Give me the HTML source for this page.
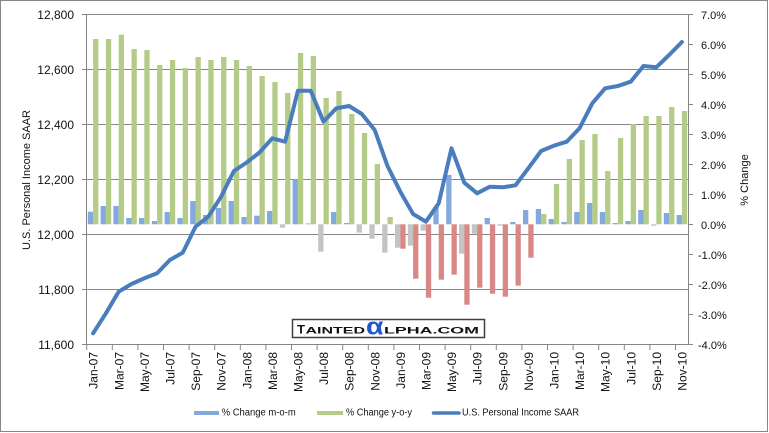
<!DOCTYPE html>
<html>
<head>
<meta charset="utf-8">
<style>
  html, body { margin: 0; padding: 0; background: #ffffff; }
  svg { display: block; }
  text { font-family: "Liberation Sans", sans-serif; fill: #111111; }
</style>
</head>
<body>
<svg width="769" height="433" viewBox="0 0 769 433" xmlns="http://www.w3.org/2000/svg">
  <rect x="0" y="0" width="769" height="433" fill="#ffffff"/>
  <rect x="0.5" y="0.5" width="767" height="431" fill="none" stroke="#868686" stroke-width="1"/>

  <!-- gridlines -->
  <g stroke="#868686" stroke-width="1">
    <line x1="86.5" y1="14.5" x2="688.5" y2="14.5"/>
    <line x1="86.5" y1="69.5" x2="688.5" y2="69.5"/>
    <line x1="86.5" y1="124.5" x2="688.5" y2="124.5"/>
    <line x1="86.5" y1="179.5" x2="688.5" y2="179.5"/>
    <line x1="86.5" y1="234.5" x2="688.5" y2="234.5"/>
    <line x1="86.5" y1="289.5" x2="688.5" y2="289.5"/>
  </g>

  <!-- m-o-m bars (blue positive, gray negative) -->
  <g fill="#84a9dc">
    <rect x="87.8" y="211.7" width="5.3" height="12.6"/>
    <rect x="100.6" y="206" width="5.3" height="18.3"/>
    <rect x="113.4" y="206" width="5.3" height="18.3"/>
    <rect x="126.2" y="218" width="5.3" height="6.3"/>
    <rect x="139.0" y="218" width="5.3" height="6.3"/>
    <rect x="151.8" y="221" width="5.3" height="3.3"/>
    <rect x="164.6" y="212" width="5.3" height="12.3"/>
    <rect x="177.4" y="218" width="5.3" height="6.3"/>
    <rect x="190.2" y="201" width="5.3" height="23.3"/>
    <rect x="203.0" y="215" width="5.3" height="9.3"/>
    <rect x="215.8" y="208" width="5.3" height="16.3"/>
    <rect x="228.6" y="201" width="5.3" height="23.3"/>
    <rect x="241.4" y="217" width="5.3" height="7.3"/>
    <rect x="254.2" y="215.7" width="5.3" height="8.6"/>
    <rect x="267.0" y="211" width="5.3" height="13.3"/>
    <rect x="292.6" y="179.3" width="5.3" height="45"/>
    <rect x="305.4" y="223.5" width="5.3" height="0.8"/>
    <rect x="331.0" y="212" width="5.3" height="12.3"/>
    <rect x="343.8" y="223" width="5.3" height="1.3"/>
    <rect x="433.4" y="207" width="5.3" height="17.3"/>
    <rect x="446.2" y="175" width="5.3" height="49.3"/>
    <rect x="484.6" y="218" width="5.3" height="6.3"/>
    <rect x="510.2" y="222" width="5.3" height="2.3"/>
    <rect x="523.0" y="210" width="5.3" height="14.3"/>
    <rect x="535.8" y="209" width="5.3" height="15.3"/>
    <rect x="548.6" y="219" width="5.3" height="5.3"/>
    <rect x="561.4" y="222" width="5.3" height="2.3"/>
    <rect x="574.2" y="212" width="5.3" height="12.3"/>
    <rect x="587.0" y="203" width="5.3" height="21.3"/>
    <rect x="599.8" y="212" width="5.3" height="12.3"/>
    <rect x="612.6" y="223" width="5.3" height="1.3"/>
    <rect x="625.4" y="221" width="5.3" height="3.3"/>
    <rect x="638.2" y="210" width="5.3" height="14.3"/>
    <rect x="663.8" y="213" width="5.3" height="11.3"/>
    <rect x="676.6" y="215" width="5.3" height="9.3"/>
  </g>
  <g fill="#c4c4c4">
    <rect x="279.8" y="224.3" width="5.3" height="3.4"/>
    <rect x="318.2" y="224.3" width="5.3" height="27.4"/>
    <rect x="356.6" y="224.3" width="5.3" height="8.4"/>
    <rect x="369.4" y="224.3" width="5.3" height="14.4"/>
    <rect x="382.2" y="224.3" width="5.3" height="28.4"/>
    <rect x="395.0" y="224.3" width="5.3" height="23.4"/>
    <rect x="407.8" y="224.3" width="5.3" height="21.4"/>
    <rect x="420.6" y="224.3" width="5.3" height="6.4"/>
    <rect x="459.0" y="224.3" width="5.3" height="29.4"/>
    <rect x="471.8" y="224.3" width="5.3" height="9.4"/>
    <rect x="497.4" y="224.3" width="5.3" height="1.4"/>
    <rect x="651.0" y="224.3" width="5.3" height="1.4"/>
  </g>

  <!-- y-o-y bars (green positive, red negative) -->
  <g fill="#b5cc88">
    <rect x="93.1" y="39" width="5.3" height="185.3"/>
    <rect x="105.9" y="39" width="5.3" height="185.3"/>
    <rect x="118.7" y="34.7" width="5.3" height="189.6"/>
    <rect x="131.5" y="49" width="5.3" height="175.3"/>
    <rect x="144.3" y="50" width="5.3" height="174.3"/>
    <rect x="157.1" y="65" width="5.3" height="159.3"/>
    <rect x="169.9" y="60" width="5.3" height="164.3"/>
    <rect x="182.7" y="68" width="5.3" height="156.3"/>
    <rect x="195.5" y="57" width="5.3" height="167.3"/>
    <rect x="208.3" y="60" width="5.3" height="164.3"/>
    <rect x="221.1" y="57" width="5.3" height="167.3"/>
    <rect x="233.9" y="60" width="5.3" height="164.3"/>
    <rect x="246.7" y="66" width="5.3" height="158.3"/>
    <rect x="259.5" y="76" width="5.3" height="148.3"/>
    <rect x="272.3" y="82" width="5.3" height="142.3"/>
    <rect x="285.1" y="93" width="5.3" height="131.3"/>
    <rect x="297.9" y="53" width="5.3" height="171.3"/>
    <rect x="310.7" y="56" width="5.3" height="168.3"/>
    <rect x="323.5" y="98" width="5.3" height="126.3"/>
    <rect x="336.3" y="91" width="5.3" height="133.3"/>
    <rect x="349.1" y="114" width="5.3" height="110.3"/>
    <rect x="361.9" y="133" width="5.3" height="91.3"/>
    <rect x="374.7" y="164" width="5.3" height="60.3"/>
    <rect x="387.5" y="217" width="5.3" height="7.3"/>
    <rect x="541.1" y="214" width="5.3" height="10.3"/>
    <rect x="553.9" y="184" width="5.3" height="40.3"/>
    <rect x="566.7" y="159" width="5.3" height="65.3"/>
    <rect x="579.5" y="140" width="5.3" height="84.3"/>
    <rect x="592.3" y="134" width="5.3" height="90.3"/>
    <rect x="605.1" y="171" width="5.3" height="53.3"/>
    <rect x="617.9" y="138" width="5.3" height="86.3"/>
    <rect x="630.7" y="124" width="5.3" height="100.3"/>
    <rect x="643.5" y="116" width="5.3" height="108.3"/>
    <rect x="656.3" y="116" width="5.3" height="108.3"/>
    <rect x="669.1" y="107" width="5.3" height="117.3"/>
    <rect x="681.9" y="111" width="5.3" height="113.3"/>
  </g>
  <g fill="#d98888">
    <rect x="400.3" y="224.3" width="5.3" height="24.4"/>
    <rect x="413.1" y="224.3" width="5.3" height="54.4"/>
    <rect x="425.9" y="224.3" width="5.3" height="73.4"/>
    <rect x="438.7" y="224.3" width="5.3" height="55.4"/>
    <rect x="451.5" y="224.3" width="5.3" height="50.4"/>
    <rect x="464.3" y="224.3" width="5.3" height="80.4"/>
    <rect x="477.1" y="224.3" width="5.3" height="63.4"/>
    <rect x="489.9" y="224.3" width="5.3" height="69.4"/>
    <rect x="502.7" y="224.3" width="5.3" height="72.4"/>
    <rect x="515.5" y="224.3" width="5.3" height="61.4"/>
    <rect x="528.3" y="224.3" width="5.3" height="33.4"/>
  </g>

  <!-- axes -->
  <g stroke="#868686" stroke-width="1" fill="none">
    <line x1="86.5" y1="14" x2="86.5" y2="345"/>
    <line x1="688.5" y1="14" x2="688.5" y2="345"/>
    <line x1="86.5" y1="344.5" x2="688.5" y2="344.5"/>
    <line x1="82" y1="14.5" x2="86.5" y2="14.5"/>
    <line x1="82" y1="69.5" x2="86.5" y2="69.5"/>
    <line x1="82" y1="124.5" x2="86.5" y2="124.5"/>
    <line x1="82" y1="179.5" x2="86.5" y2="179.5"/>
    <line x1="82" y1="234.5" x2="86.5" y2="234.5"/>
    <line x1="82" y1="289.5" x2="86.5" y2="289.5"/>
    <line x1="82" y1="344.5" x2="86.5" y2="344.5"/>
    <line x1="688.5" y1="14.5" x2="693" y2="14.5"/>
    <line x1="688.5" y1="44.5" x2="693" y2="44.5"/>
    <line x1="688.5" y1="74.5" x2="693" y2="74.5"/>
    <line x1="688.5" y1="104.5" x2="693" y2="104.5"/>
    <line x1="688.5" y1="134.5" x2="693" y2="134.5"/>
    <line x1="688.5" y1="164.5" x2="693" y2="164.5"/>
    <line x1="688.5" y1="194.5" x2="693" y2="194.5"/>
    <line x1="688.5" y1="224.5" x2="693" y2="224.5"/>
    <line x1="688.5" y1="254.5" x2="693" y2="254.5"/>
    <line x1="688.5" y1="284.5" x2="693" y2="284.5"/>
    <line x1="688.5" y1="314.5" x2="693" y2="314.5"/>
    <line x1="688.5" y1="344.5" x2="693" y2="344.5"/>
    <line x1="86.7" y1="344.5" x2="86.7" y2="350"/>
    <line x1="112.3" y1="344.5" x2="112.3" y2="350"/>
    <line x1="137.9" y1="344.5" x2="137.9" y2="350"/>
    <line x1="163.5" y1="344.5" x2="163.5" y2="350"/>
    <line x1="189.1" y1="344.5" x2="189.1" y2="350"/>
    <line x1="214.7" y1="344.5" x2="214.7" y2="350"/>
    <line x1="240.3" y1="344.5" x2="240.3" y2="350"/>
    <line x1="265.9" y1="344.5" x2="265.9" y2="350"/>
    <line x1="291.5" y1="344.5" x2="291.5" y2="350"/>
    <line x1="317.1" y1="344.5" x2="317.1" y2="350"/>
    <line x1="342.7" y1="344.5" x2="342.7" y2="350"/>
    <line x1="368.3" y1="344.5" x2="368.3" y2="350"/>
    <line x1="393.9" y1="344.5" x2="393.9" y2="350"/>
    <line x1="419.5" y1="344.5" x2="419.5" y2="350"/>
    <line x1="445.1" y1="344.5" x2="445.1" y2="350"/>
    <line x1="470.7" y1="344.5" x2="470.7" y2="350"/>
    <line x1="496.3" y1="344.5" x2="496.3" y2="350"/>
    <line x1="521.9" y1="344.5" x2="521.9" y2="350"/>
    <line x1="547.5" y1="344.5" x2="547.5" y2="350"/>
    <line x1="573.1" y1="344.5" x2="573.1" y2="350"/>
    <line x1="598.7" y1="344.5" x2="598.7" y2="350"/>
    <line x1="624.3" y1="344.5" x2="624.3" y2="350"/>
    <line x1="649.9" y1="344.5" x2="649.9" y2="350"/>
    <line x1="675.5" y1="344.5" x2="675.5" y2="350"/>
  </g>

  <!-- income line -->
  <polyline fill="none" stroke="#4a7dbd" stroke-width="4" stroke-linejoin="round" stroke-linecap="round"
    points="93.1,333.3 105.9,313.3 118.7,291.7 131.5,284 144.3,278.3 157.1,273.3 169.9,260 182.7,252.7 195.5,226.7 208.3,216.7 221.1,196.7 233.9,171 246.7,162.5 259.5,152.5 272.3,138.3 285.1,141.7 297.9,90.7 310.7,90.7 323.5,121.7 336.3,108.3 349.1,106 361.9,114 374.7,130 387.5,166 400.3,191.7 413.1,214 425.9,221.7 438.7,203.3 451.5,148.3 464.3,182.7 477.1,193.3 489.9,186.7 502.7,187.3 515.5,185.3 528.3,168.3 541.1,151 553.9,145.7 566.7,141.7 579.5,128.3 592.3,103.3 605.1,88.3 617.9,86 630.7,81.7 643.5,66 656.3,67.3 669.1,55 681.9,42"/>

  <!-- left axis labels -->
  <g font-size="12" text-anchor="end">
    <text x="74" y="19.2">12,800</text>
    <text x="74" y="74.2">12,600</text>
    <text x="74" y="129.2">12,400</text>
    <text x="74" y="184.2">12,200</text>
    <text x="74" y="239.2">12,000</text>
    <text x="74" y="294.2">11,800</text>
    <text x="74" y="349.2">11,600</text>
  </g>

  <!-- right axis labels -->
  <g font-size="11">
    <text x="701" y="19">7.0%</text>
    <text x="701" y="49">6.0%</text>
    <text x="701" y="79">5.0%</text>
    <text x="701" y="109">4.0%</text>
    <text x="701" y="139">3.0%</text>
    <text x="701" y="169">2.0%</text>
    <text x="701" y="199">1.0%</text>
    <text x="701" y="229">0.0%</text>
    <text x="698" y="259">-1.0%</text>
    <text x="698" y="289">-2.0%</text>
    <text x="698" y="319">-3.0%</text>
    <text x="698" y="349">-4.0%</text>
  </g>

  <!-- axis titles -->
  <text font-size="11" text-anchor="middle" transform="translate(30,180) rotate(-90)">U.S. Personal Income SAAR</text>
  <text font-size="11" text-anchor="middle" transform="translate(748,180) rotate(-90)">% Change</text>

  <!-- x labels -->
  <g font-size="12" text-anchor="end">
    <text transform="translate(97.7,352) rotate(-90)">Jan-07</text>
    <text transform="translate(123.3,352) rotate(-90)">Mar-07</text>
    <text transform="translate(148.9,352) rotate(-90)">May-07</text>
    <text transform="translate(174.5,352) rotate(-90)">Jul-07</text>
    <text transform="translate(200.1,352) rotate(-90)">Sep-07</text>
    <text transform="translate(225.7,352) rotate(-90)">Nov-07</text>
    <text transform="translate(251.3,352) rotate(-90)">Jan-08</text>
    <text transform="translate(276.9,352) rotate(-90)">Mar-08</text>
    <text transform="translate(302.5,352) rotate(-90)">May-08</text>
    <text transform="translate(328.1,352) rotate(-90)">Jul-08</text>
    <text transform="translate(353.7,352) rotate(-90)">Sep-08</text>
    <text transform="translate(379.3,352) rotate(-90)">Nov-08</text>
    <text transform="translate(404.9,352) rotate(-90)">Jan-09</text>
    <text transform="translate(430.5,352) rotate(-90)">Mar-09</text>
    <text transform="translate(456.1,352) rotate(-90)">May-09</text>
    <text transform="translate(481.7,352) rotate(-90)">Jul-09</text>
    <text transform="translate(507.3,352) rotate(-90)">Sep-09</text>
    <text transform="translate(532.9,352) rotate(-90)">Nov-09</text>
    <text transform="translate(558.5,352) rotate(-90)">Jan-10</text>
    <text transform="translate(584.1,352) rotate(-90)">Mar-10</text>
    <text transform="translate(609.7,352) rotate(-90)">May-10</text>
    <text transform="translate(635.3,352) rotate(-90)">Jul-10</text>
    <text transform="translate(660.9,352) rotate(-90)">Sep-10</text>
    <text transform="translate(686.5,352) rotate(-90)">Nov-10</text>
  </g>

  <!-- logo -->
  <rect x="292.5" y="319.5" width="192" height="18" fill="#ffffff" stroke="#404040" stroke-width="1.5"/>
  <text x="297" y="333.4" font-size="12" font-weight="bold" textLength="8" lengthAdjust="spacingAndGlyphs">T</text>
  <text x="305.5" y="333.4" font-size="9.4" font-weight="bold" textLength="59.5" lengthAdjust="spacingAndGlyphs">AINTED</text>
  <text x="366" y="334.6" font-size="24" font-weight="bold" style="fill:#2356c8" textLength="17.5" lengthAdjust="spacingAndGlyphs">α</text>
  <text x="384" y="333.4" font-size="9.4" font-weight="bold" textLength="95" lengthAdjust="spacingAndGlyphs">LPHA.COM</text>

  <!-- legend -->
  <rect x="194" y="411" width="25" height="4" fill="#84a9dc"/>
  <text x="221.7" y="415.5" font-size="10" textLength="74" lengthAdjust="spacingAndGlyphs">% Change m-o-m</text>
  <rect x="317" y="411" width="26" height="4" fill="#b5cc88"/>
  <text x="346" y="415.5" font-size="10" textLength="66" lengthAdjust="spacingAndGlyphs">% Change y-o-y</text>
  <line x1="433.5" y1="413" x2="459" y2="413" stroke="#4a7dbd" stroke-width="3.5" stroke-linecap="round"/>
  <text x="462" y="415.5" font-size="10" textLength="117" lengthAdjust="spacingAndGlyphs">U.S. Personal Income SAAR</text>
</svg>
</body>
</html>
